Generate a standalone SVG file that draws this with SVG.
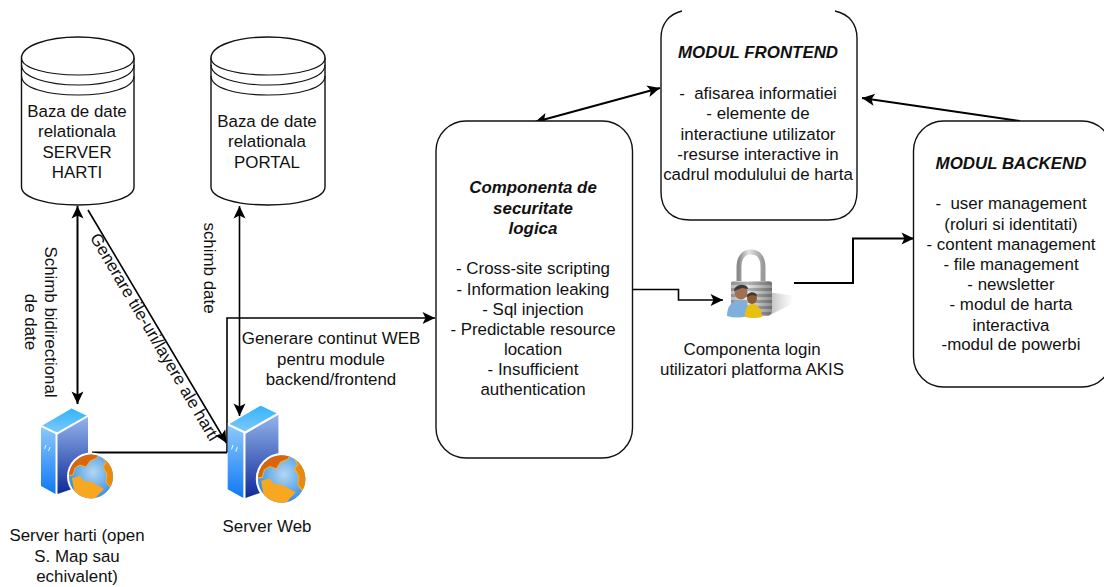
<svg xmlns="http://www.w3.org/2000/svg" xmlns:xlink="http://www.w3.org/1999/xlink" width="1104" height="587" viewBox="0 0 1104 587">
<style>
text{font-family:"Liberation Sans",Arial,sans-serif;font-size:16.9px;fill:#111;text-anchor:middle}
.h{font-weight:bold;font-style:italic}
.s{fill:#fff;stroke:#111;stroke-width:1.4}
.a{fill:none;stroke:#111;stroke-width:1.2}
.c{fill:none;stroke:#000;stroke-width:1.6}
.t{fill:none;stroke:#000;stroke-width:2}
.e{marker-end:url(#ah)}
.b{marker-start:url(#ah);marker-end:url(#ah)}
</style>
<defs>
<marker id="ah" markerUnits="userSpaceOnUse" markerWidth="14" markerHeight="14" refX="13" refY="6.5" orient="auto-start-reverse" viewBox="0 0 14 13"><path d="M13 6.5L0.5 0.5L3.5 6.5L0.5 12.5Z" fill="#000"/></marker>
<linearGradient id="st" x1="0" y1="0" x2="0" y2="1"><stop offset="0" stop-color="#30b4fa"/><stop offset="1" stop-color="#7fc8fa"/></linearGradient>
<linearGradient id="sl" x1="0" y1="0" x2="0" y2="1"><stop offset="0" stop-color="#8cc8fb"/><stop offset="1" stop-color="#0f78f5"/></linearGradient>
<linearGradient id="sr" x1="0" y1="0" x2="0" y2="1"><stop offset="0" stop-color="#93b4ea"/><stop offset="1" stop-color="#0f2a9a"/></linearGradient>
<radialGradient id="gl" cx="0.55" cy="0.4" r="0.7"><stop offset="0" stop-color="#b4d6f2"/><stop offset="0.6" stop-color="#5aa6e8"/><stop offset="1" stop-color="#2a7cd8"/></radialGradient>
<linearGradient id="lb" x1="0" y1="0" x2="1" y2="0"><stop offset="0" stop-color="#b8b8b8"/><stop offset="0.4" stop-color="#e8e8e8"/><stop offset="1" stop-color="#8e8e8e"/></linearGradient>
<linearGradient id="ls" x1="0" y1="0" x2="1" y2="0"><stop offset="0" stop-color="#999" stop-opacity="0.7"/><stop offset="1" stop-color="#bbb" stop-opacity="0"/></linearGradient>
<linearGradient id="lp" x1="0" y1="0" x2="1" y2="0"><stop offset="0" stop-color="#8a8a8a"/><stop offset="0.4" stop-color="#e4e4e4"/><stop offset="1" stop-color="#9a9a9a"/></linearGradient>
<clipPath id="gc"><circle cx="91" cy="476.500" r="22"/></clipPath>
<g id="srv">
<path d="M41.500 425.500L71.500 408L87.500 415.500L57 433Z" fill="url(#st)" stroke="#fff" stroke-width="1"/>
<path d="M41 427L55.500 434V494L41 486Z" fill="url(#sl)"/>
<path d="M57.500 434.500L88 417V480L75 488L57.500 494Z" fill="url(#sr)"/>
<path d="M44.500 449l1.500-4M48.500 451l1.500-4" stroke="#dff" stroke-width="1"/>
<circle cx="91" cy="476.500" r="24" fill="#fff"/>
<circle cx="91" cy="476.500" r="22" fill="url(#gl)"/>
<g clip-path="url(#gc)">
<path d="M66 476L68 462L82 452L100 452L97 458L90 461L86 467L80 465L75 468L73 475Z" fill="#d9660f" stroke="#f5b030" stroke-width="1"/>
<path d="M103 458L112 462L116 480L110 487L106 482L107 474L103 467L106 463Z" fill="#e88a10" stroke="#f5b030" stroke-width="1"/>
<path d="M72 478L80 476L84 481L92 482L99 486L104 489L98 495L94 500L80 500L74 490Z" fill="#f8a820"/>
</g>
</g>
<pattern id="stripes" width="4" height="6" patternUnits="userSpaceOnUse" y="282"><rect width="4" height="3" fill="#000" fill-opacity="0.22"/></pattern>
</defs>

<g id="connectors">
<path class="t b" d="M77.500 206V404"/>
<path class="c b" d="M239.500 206V416"/>
<path class="c e" d="M88 210L226.500 443"/>
<path class="t" d="M92 452.500H227"/>
<path class="c e" d="M227 452.500V318H435"/>
<path class="t b" d="M660 88L535 122"/>
<path class="c e" d="M632 289.500H678.500V300H723"/>
<path class="t e" d="M794 283H853V238.500H914"/>
<path class="t e" d="M1020 121L862 98"/>
</g>

<g id="db-server-harti">
<path class="s" d="M21.500 58C21.500 46 47 37 78 37S134 46 134 58V187C134 198 108 205 78 205S21.500 198 21.500 187Z"/>
<path class="a" d="M21.500 58C21.500 68 47 75 78 75S134 68 134 58M21.500 65C21.500 77 47 85 78 85S134 77 134 65M21.500 76C21.500 88 47 95 78 95S134 88 134 76"/>
<text x="77" y="117">Baza de date</text><text x="77" y="137">relationala</text><text x="77" y="158">SERVER</text><text x="77" y="178">HARTI</text>
</g>
<g id="db-portal">
<path class="s" d="M211 58C211 46 236 37 268 37S325 46 325 58V187C325 198 299 205 268 205S211 198 211 187Z"/>
<path class="a" d="M211 58C211 68 236 75 268 75S325 68 325 58M211 65C211 77 236 85 268 85S325 77 325 65M211 76C211 88 236 95 268 95S325 88 325 76"/>
<text x="267" y="127">Baza de date</text><text x="267" y="147">relationala</text><text x="267" y="168">PORTAL</text>
</g>

<g id="label-schimb">
<text transform="translate(45 322) rotate(90)">Schimb bidirectional</text>
<text transform="translate(25 322) rotate(90)">de date</text>
</g>
<text id="label-schimb-date" transform="translate(204 268) rotate(90)">schimb date</text>
<text id="label-tile" transform="translate(89.500 237.500) rotate(59.500)" style="text-anchor:start">Generare tile-uri/layere ale harti</text>
<g id="label-continut">
<text x="331" y="344">Generare continut WEB</text><text x="331" y="365">pentru module</text><text x="331" y="385">backend/frontend</text>
</g>

<g id="server-harti">
<use href="#srv"/>
<text x="77" y="541">Server harti (open</text><text x="77" y="561.500">S. Map sau</text><text x="77" y="582">echivalent)</text>
</g>
<g id="server-web">
<use href="#srv" transform="translate(183.400 -35.600) scale(1.08)"/>
<text x="267" y="532">Server Web</text>
</g>

<g id="securitate">
<rect class="s" x="436" y="121" width="196.500" height="337" rx="30" ry="30"/>
<text class="h" x="533" y="193">Componenta de</text><text class="h" x="533" y="214">securitate</text><text class="h" x="533" y="234">logica</text>
<text x="533" y="274">- Cross-site scripting</text><text x="533" y="295">- Information leaking</text><text x="533" y="315">- Sql injection</text><text x="533" y="335">- Predictable resource</text><text x="533" y="355">location</text><text x="533" y="375">- Insufficient</text><text x="533" y="395">authentication</text>
</g>

<g id="frontend">
<path class="s" d="M682 11C669 14 661 24 661 38V192C661 210 672 220 690 220H828C846 220 857 210 857 192V38C857 24 849 14 835 11"/>
<text class="h" x="758" y="58">MODUL FRONTEND</text>
<text x="758" y="99">-&#160; afisarea informatiei</text><text x="758" y="119">- elemente de</text><text x="758" y="140">interactiune utilizator</text><text x="758" y="160">-resurse interactive in</text><text x="758" y="180">cadrul modulului de harta</text>
</g>

<g id="backend">
<rect class="s" x="913.500" y="121" width="198.500" height="266" rx="30" ry="30"/>
<text class="h" x="1011" y="169">MODUL BACKEND</text>
<text x="1011" y="209">-&#160; user management</text><text x="1011" y="230">(roluri si identitati)</text><text x="1011" y="250">- content management</text><text x="1011" y="270">- file management</text><text x="1011" y="290">- newsletter</text><text x="1011" y="310">- modul de harta</text><text x="1011" y="331">interactiva</text><text x="1011" y="350">-modul de powerbi</text>
</g>

<g id="login">
<path d="M768 292L794 296L790 305L768 316Z" fill="url(#ls)"/>
<path d="M739 283V267C739 257 744 252 751 252C758 252 763 257 763 267V283" fill="none" stroke="url(#lp)" stroke-width="5"/>
<path d="M731 283Q731 281 733 281H769Q772 281 772 284V310Q772 316 766 316H735Q731 316 731 312Z" fill="url(#lb)"/>
<path d="M731 283Q731 281 733 281H769Q772 281 772 284V310Q772 316 766 316H735Q731 316 731 312Z" fill="url(#stripes)"/>
<path d="M727 316C727 305 733 300 741 300C749 300 748 305 748 316Q737 319 727 316Z" fill="#7fb0dc"/>
<ellipse cx="741" cy="292" rx="6.500" ry="7.500" fill="#a07050"/>
<path d="M734 291C734 284 748 283 748 289L742 288Z" fill="#3a3a3a"/>
<path d="M745 317C745 308 748 304 752 304C758 304 762 310 762 317Q753 319 745 317Z" fill="#e8c010"/>
<ellipse cx="752" cy="298" rx="5" ry="6" fill="#8a5a30"/>
<path d="M746.500 297C746 292 757 291 757 296L752 295Z" fill="#3a3a3a"/>
<text x="752" y="355">Componenta login</text><text x="752" y="375">utilizatori platforma AKIS</text>
</g>
</svg>
